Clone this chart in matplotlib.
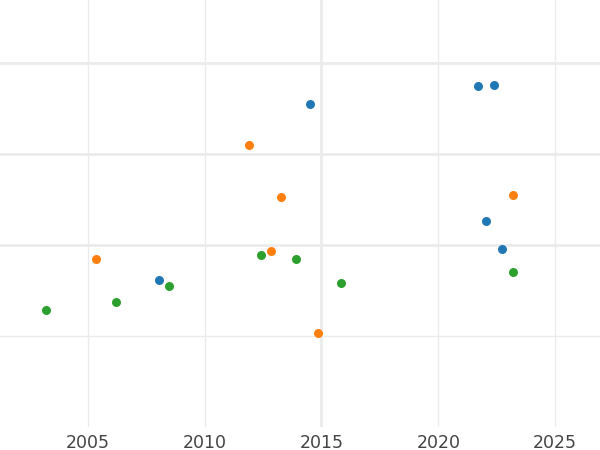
import matplotlib
matplotlib.use("Agg")
import matplotlib.pyplot as plt

# data (y has no labels, so arbitrary units)
blue_x = [2014.49, 2021.71, 2022.39, 2022.05, 2022.74, 2008.05]
blue_y = [3.55, 3.75, 3.76, 2.26, 1.96, 1.61]
orange_x = [2011.88, 2013.27, 2023.18, 2005.33, 2012.82, 2014.86]
orange_y = [3.10, 2.53, 2.55, 1.84, 1.93, 1.03]
green_x = [2003.22, 2006.21, 2008.46, 2012.39, 2013.90, 2015.85, 2023.18]
green_y = [1.29, 1.37, 1.55, 1.89, 1.84, 1.58, 1.70]
year_ticks = [2005, 2010, 2015, 2020, 2025]
y_grid = [1, 2, 3, 4]

fig = plt.figure(figsize=(6, 4.5), dpi=100)
ax = fig.add_axes([0, 1 - 427 / 450, 1, 427 / 450])

ax.scatter(blue_x, blue_y, s=42, color="#1f77b4", zorder=3, linewidths=0)
ax.scatter(orange_x, orange_y, s=42, color="#ff7f0e", zorder=3, linewidths=0)
ax.scatter(green_x, green_y, s=42, color="#2ca02c", zorder=3, linewidths=0)

ax.set_xlim(2001.24, 2026.92)
ax.set_ylim(0, 4.69)
ax.set_xticks(year_ticks)
ax.set_yticks(y_grid)
ax.set_yticklabels([])
ax.tick_params(axis="both", length=0)
ax.tick_params(axis="x", labelsize=12.5, labelcolor="#444444", pad=5)

for s in ax.spines.values():
    s.set_visible(False)

ax.grid(True, color="#ebebeb", linewidth=1)
ax.set_axisbelow(True)
# the 2015 line and upper three horizontal lines are drawn thicker
for yr, gl in zip(year_ticks, ax.get_xgridlines()):
    if yr == 2015:
        gl.set_linewidth(2)
for v, gl in zip(y_grid, ax.get_ygridlines()):
    if v > 1:
        gl.set_linewidth(2)

fig.savefig("out.png", dpi=100)
